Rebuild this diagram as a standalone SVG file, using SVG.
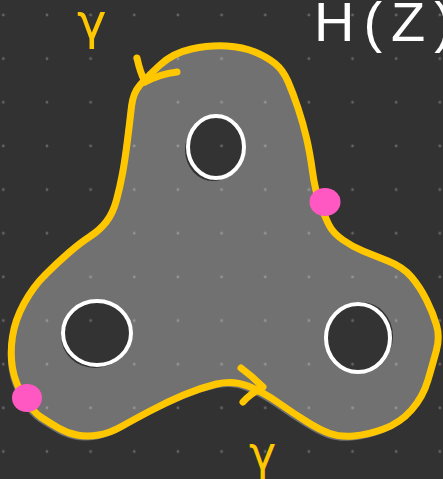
<svg xmlns="http://www.w3.org/2000/svg" width="443" height="479" viewBox="0 0 443 479">
<style>
.curve{fill:none;stroke:#ffc700;stroke-width:7;stroke-linecap:round;stroke-linejoin:round}
.hole{fill:#333333;stroke:#ffffff;stroke-width:4}
.shade{fill:#333333}
.pin{fill:#ff58c2}
.gam{font-family:"DejaVu Sans",sans-serif;fill:#ffc700}
.title{font-family:"Liberation Sans",sans-serif;fill:#ffffff;font-size:56px}
</style>
<defs>
<pattern id="dots" patternUnits="userSpaceOnUse" x="-18.5" y="-6.8" width="43.65" height="43.65">
<circle cx="21.825" cy="21.825" r="1.4" fill="#ffffff" fill-opacity="0.25"/>
</pattern>
<path id="outline" d="M191.5,49 Q210,45 226.5,46 Q243,47 255,52 Q267,57 275,63.5 Q283,70 288,81.5 Q293,93 298,108 Q303,123 306.5,138 Q310,153 312.5,171.5 Q315,190 320,203.5 Q325,217 329,225 Q333,233 343,240 Q353,247 363,251 Q373,255 388,261 Q403,267 411.5,277 Q420,287 426.5,300 Q433,313 436.5,325 Q440,337 436.5,350 Q433,363 428,380 Q423,397 411.5,410 Q400,423 383.5,429 Q367,435 353.5,436 Q340,437 330,433.5 Q320,430 306.5,421.5 Q293,413 278,402.5 Q263,392 248,386 Q233,380 216.5,384 Q200,388 183.5,395 Q167,402 150,411 Q133,420 121.5,426.5 Q110,433 98.5,435 Q87,437 77,435 Q67,433 58.5,428 Q50,423 41.5,417.5 Q33,412 24,397.5 Q15,383 12.5,368 Q10,353 12.5,336.5 Q15,320 24,303.5 Q33,287 45,275 Q57,263 68.5,253 Q80,243 90,236.5 Q100,230 106.5,221.5 Q113,213 116.5,200 Q120,187 122.5,173.5 Q125,160 127.5,140 Q130,120 131.5,106.5 Q133,93 140,85 Q147,77 160,65 Q173,53 191.5,49 Z"/>
</defs>
<rect id="background" x="0" y="0" width="443" height="479" fill="#323232"/>
<g id="surface">
<use href="#outline" transform="translate(-2,3)" fill="#717171" stroke="#717171" stroke-width="3"/>
<use href="#outline" fill="#717171"/>
</g>
<g id="holes">
<g id="hole-top"><ellipse class="shade" cx="213" cy="150" rx="28" ry="31"/><ellipse class="hole" cx="216" cy="147" rx="28" ry="31"/></g>
<g id="hole-left"><ellipse class="shade" cx="95" cy="336" rx="34" ry="32"/><ellipse class="hole" cx="97" cy="333" rx="34" ry="32"/></g>
<g id="hole-right"><ellipse class="shade" cx="361" cy="336" rx="32" ry="34"/><ellipse class="hole" cx="358" cy="338" rx="32" ry="34"/></g>
</g>
<rect id="grid" x="0" y="0" width="443" height="479" fill="url(#dots)"/>
<g id="connectors">
<use href="#outline" class="curve"/>
<path class="curve" d="M137,58 Q140,72 145,82 Q160,74 177,72"/>
<path class="curve" d="M241,368 Q252,376 263,387 Q250,394 243,402"/>
</g>
<g id="points">
<ellipse id="pt-right" class="pin" cx="325" cy="202" rx="15.5" ry="14"/>
<ellipse id="pt-left" class="pin" cx="27" cy="398" rx="15" ry="14"/>
</g>
<g id="labels">
<text class="gam" x="77" y="39" font-size="50">γ</text>
<text class="gam" x="249" y="469" font-size="46">γ</text>
<text class="title" x="314" y="41" letter-spacing="9">H(Z)</text>
</g>
</svg>
